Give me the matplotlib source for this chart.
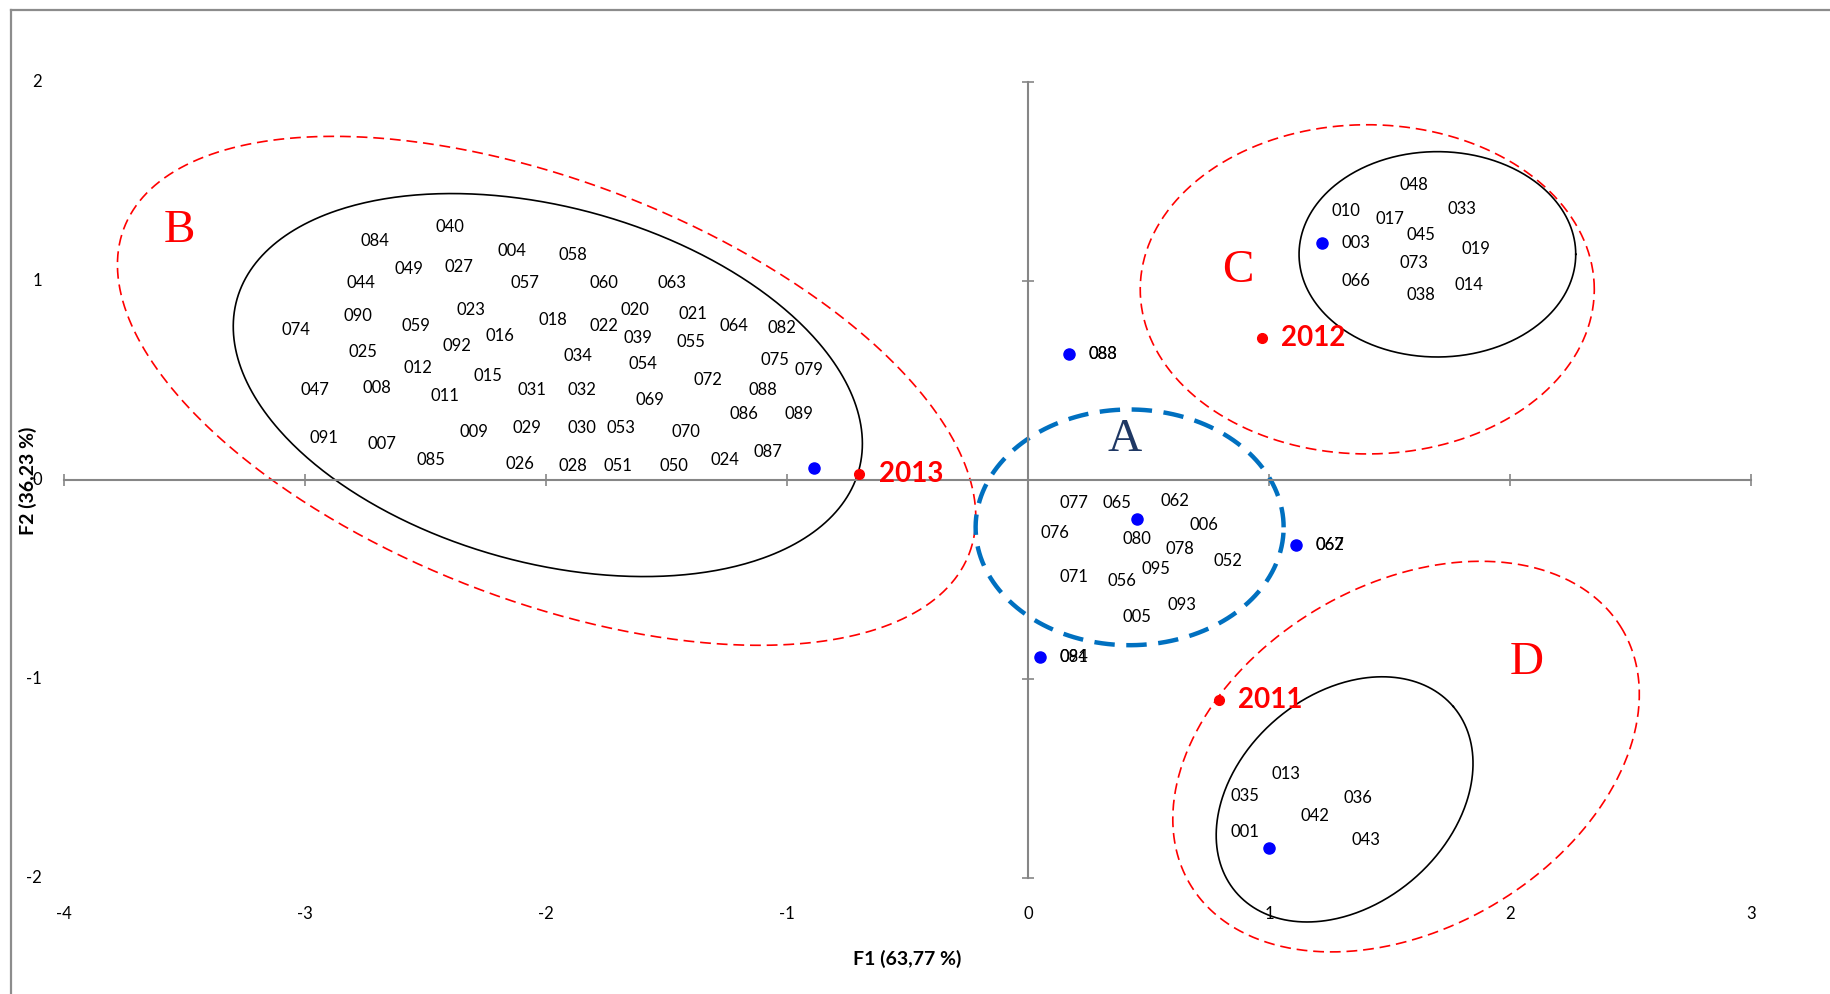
import numpy as np
import matplotlib.pyplot as plt
from matplotlib.lines import Line2D

# --- observations shown as labels only (F1, F2 scores) ---
b_names = ['084', '040', '004', '058', '049', '027', '044', '057', '060', '063',
           '074', '090', '059', '023', '018', '022', '020', '021', '064', '082',
           '016', '092', '039', '055', '025', '034', '054', '075', '079', '012',
           '015', '072', '047', '008', '011', '031', '032', '088', '069', '086',
           '089', '091', '007', '009', '029', '030', '053', '070', '085', '026',
           '028', '051', '050', '024', '087']
b_f1 = [-2.71, -2.40, -2.14, -1.89, -2.57, -2.36, -2.77, -2.09, -1.76, -1.48,
        -3.04, -2.78, -2.54, -2.31, -1.97, -1.76, -1.63, -1.39, -1.22, -1.02,
        -2.19, -2.37, -1.62, -1.40, -2.76, -1.87, -1.60, -1.05, -0.91, -2.53,
        -2.24, -1.33, -2.96, -2.70, -2.42, -2.06, -1.85, -1.10, -1.57, -1.18,
        -0.95, -2.92, -2.68, -2.30, -2.08, -1.85, -1.69, -1.42, -2.48, -2.11,
        -1.89, -1.70, -1.47, -1.26, -1.08]
b_f2 = [1.20, 1.27, 1.15, 1.13, 1.06, 1.07, 0.99, 0.99, 0.99, 0.99,
        0.75, 0.82, 0.77, 0.85, 0.80, 0.77, 0.85, 0.83, 0.77, 0.76,
        0.72, 0.67, 0.71, 0.69, 0.64, 0.62, 0.58, 0.60, 0.55, 0.56,
        0.52, 0.50, 0.45, 0.46, 0.42, 0.45, 0.45, 0.45, 0.40, 0.33,
        0.33, 0.21, 0.18, 0.24, 0.26, 0.26, 0.26, 0.24, 0.10, 0.08,
        0.07, 0.07, 0.07, 0.10, 0.14]

a_names = ['077', '065', '062', '076', '080', '006', '078', '052', '071', '056',
           '095', '093', '005']
a_f1 = [0.19, 0.37, 0.61, 0.11, 0.45, 0.73, 0.63, 0.83, 0.19, 0.39, 0.53, 0.64, 0.45]
a_f2 = [-0.12, -0.12, -0.11, -0.27, -0.30, -0.23, -0.35, -0.41, -0.49, -0.51,
        -0.45, -0.63, -0.69]

c_names = ['048', '010', '017', '033', '003', '045', '019', '073', '066', '014', '038']
c_f1 = [1.60, 1.32, 1.50, 1.80, 1.36, 1.63, 1.86, 1.60, 1.36, 1.83, 1.63]
c_f2 = [1.48, 1.35, 1.31, 1.36, 1.19, 1.23, 1.16, 1.09, 1.00, 0.98, 0.93]

d_names = ['013', '035', '036', '042', '001', '043']
d_f1 = [1.07, 0.90, 1.37, 1.19, 0.90, 1.40]
d_f2 = [-1.48, -1.59, -1.60, -1.69, -1.77, -1.81]

# --- observations drawn with a marker (overlapping labels) ---
dot_f1 = [-0.89, 0.17, 0.45, 1.11, 0.05, 1.22, 1.00]
dot_f2 = [0.06, 0.63, -0.20, -0.33, -0.89, 1.19, -1.85]
dot_names = [[], ['083', '088'], [], ['067', '062'], ['094', '081'], [], []]

# --- year supplementary points ---
year_names = ['2013', '2012', '2011']
year_f1 = [-0.70, 0.97, 0.79]
year_f2 = [0.03, 0.71, -1.11]

# --- group letters ---
group_names = ['B', 'A', 'C', 'D']
group_f1 = [-3.52, 0.40, 0.87, 2.07]
group_f2 = [1.25, 0.20, 1.05, -0.92]
group_colors = ['#FF0000', '#1F3864', '#FF0000', '#FF0000']

# --- enclosing ellipses: centre, semi-axes (x units on screen), angle ---
ellipses = [
    (-1.993, 0.475, 1.338, 0.738, -15.3, 'black', '-', 1.2),
    (-1.998, 0.446, 1.879, 0.869, -21.1, 'red', (0, (6.5, 3.5)), 1.2),
    (0.421, -0.240, 0.639, 0.489, 0.0, '#0070C0', (0, (4.6, 2.6)), 3.2),
    (1.698, 1.132, 0.574, 0.426, 0.0, 'black', '-', 1.2),
    (1.407, 0.956, 0.942, 0.683, 0.0, 'red', (0, (6.5, 3.5)), 1.2),
    (1.313, -1.607, 0.593, 0.437, 40.5, 'black', '-', 1.2),
    (1.568, -1.392, 1.041, 0.714, 30.4, 'red', (0, (6.5, 3.5)), 1.2),
]

x_ticks = [-4, -3, -2, -1, 0, 1, 2, 3]
y_ticks = [-2, -1, 0, 1, 2]

XLIM = (-4.266, 3.327)
YLIM = (-2.585, 2.410)

fig = plt.figure(figsize=(18.3, 9.94), dpi=100)
ax = fig.add_axes([0, 0, 1, 1])
ax.set_xlim(*XLIM)
ax.set_ylim(*YLIM)
ax.patch.set_visible(False)

# screen ratio of one y unit to one x unit
k = (994 / (YLIM[1] - YLIM[0])) / (1830 / (XLIM[1] - XLIM[0]))

# axes crossing at zero, Excel style
gray = '#868686'
for side in ['top', 'right']:
    ax.spines[side].set_visible(False)
ax.spines['left'].set_position(('data', 0))
ax.spines['bottom'].set_position(('data', 0))
ax.spines['left'].set_bounds(-2, 2)
ax.spines['bottom'].set_bounds(-4, 3)
for side in ['left', 'bottom']:
    ax.spines[side].set_color(gray)
    ax.spines[side].set_linewidth(1.5)
ax.set_xticks(x_ticks)
ax.set_yticks(y_ticks)
ax.tick_params(direction='inout', length=9, width=1.2, color=gray,
               labelbottom=False, labelleft=False)

label_font = 'Lato'
for v in x_ticks:
    ax.text(v, 1 - 913.8 / 994, str(v), transform=ax.get_xaxis_transform(),
            ha='center', va='center', fontsize=12, family=label_font)
for v in y_ticks:
    ax.text(42 / 1830, v, str(v), transform=ax.get_yaxis_transform(),
            ha='right', va='center', fontsize=12, family=label_font)

ax.text(0.496, 1 - 959 / 994, 'F1 (63,77 %)', transform=ax.transAxes,
        ha='center', va='center', fontsize=14, fontweight='bold', family=label_font)
ax.text(28 / 1830, 1 - 481 / 994, 'F2 (36,23 %)', transform=ax.transAxes,
        ha='center', va='center', rotation=90, fontsize=14, fontweight='bold',
        family=label_font)

# ellipses
t = np.linspace(0, 2 * np.pi, 500)
for cx, cy, a, b, ang, col, ls, lw in ellipses:
    th = np.radians(ang)
    ex = a * np.cos(t) * np.cos(th) - b * np.sin(t) * np.sin(th)
    ey = a * np.cos(t) * np.sin(th) + b * np.sin(t) * np.cos(th)
    ax.plot(cx + ex, cy + ey / k, color=col, linestyle=ls, linewidth=lw, zorder=2)

# label-only observations
for names, f1, f2 in [(b_names, b_f1, b_f2), (a_names, a_f1, a_f2),
                      (c_names, c_f1, c_f2), (d_names, d_f1, d_f2)]:
    for n, x, y in zip(names, f1, f2):
        ax.text(x, y, n, ha='center', va='center', fontsize=12,
                family=label_font, zorder=4)

# marked observations
ax.plot(dot_f1, dot_f2, 'o', color='#0000FF', markersize=8, zorder=3)
for names, x, y in zip(dot_names, dot_f1, dot_f2):
    for n in names:
        ax.annotate(n, (x, y), xytext=(14, 0), textcoords='offset points',
                    ha='left', va='center', fontsize=12, family=label_font, zorder=4)

# year points
ax.plot(year_f1, year_f2, 'o', color='#FF0000', markersize=7, zorder=3)
for n, x, y in zip(year_names, year_f1, year_f2):
    ax.annotate(n, (x, y), xytext=(14, 0), textcoords='offset points',
                ha='left', va='center', fontsize=20, fontweight='bold',
                color='#FF0000', family=label_font, zorder=4)

# group letters
for n, x, y, col in zip(group_names, group_f1, group_f2, group_colors):
    ax.text(x, y, n, ha='center', va='center', fontsize=34,
            family='Liberation Serif', color=col, zorder=4)

# chart frame (only top and left edges visible)
fig.add_artist(Line2D([11 / 1830, 1], [1 - 10 / 994, 1 - 10 / 994],
                      color='#8c8c8c', linewidth=1.6))
fig.add_artist(Line2D([11 / 1830, 11 / 1830], [0, 1 - 10 / 994],
                      color='#8c8c8c', linewidth=1.6))

fig.savefig('out.png', dpi=100)
